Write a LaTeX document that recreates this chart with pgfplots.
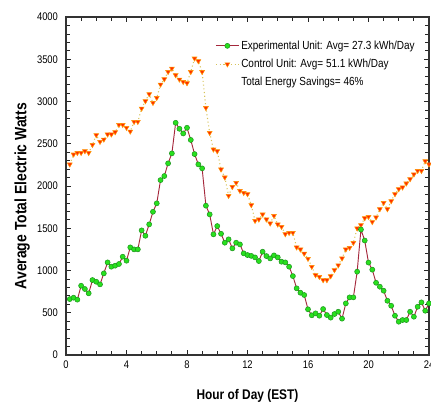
\documentclass[border=0pt]{standalone}
\usepackage{fontspec}
\setmainfont{Liberation Sans}[FakeStretch=0.85]
\usepackage{pgfplots}
\usepackage{pgfplotstable}
\pgfplotsset{compat=1.18}
\definecolor{expline}{RGB}{165,40,60}
\definecolor{expfill}{RGB}{40,225,30}
\definecolor{expdraw}{RGB}{30,150,30}
\definecolor{ctlfill}{RGB}{255,45,0}
\definecolor{ctldraw}{RGB}{255,150,0}
\definecolor{ctlline}{RGB}{215,195,90}

\pgfplotstableread{
h w
0.25 662
0.5 678
0.75 655
1.0 820
1.25 781
1.5 730
1.75 887
2.0 867
2.25 836
2.5 966
2.75 1096
3.0 1045
3.25 1057
3.5 1077
3.75 1163
4.0 1116
4.25 1274
4.5 1250
4.75 1250
5.0 1475
5.25 1411
5.5 1546
5.75 1695
6.0 1795
6.25 2070
6.5 2118
6.75 2268
7.0 2386
7.25 2748
7.5 2677
7.75 2622
8.0 2689
8.25 2545
8.5 2378
8.75 2256
9.0 2209
9.25 1767
9.5 1664
9.75 1428
10.0 1526
10.25 1435
10.5 1329
10.75 1369
11.0 1262
11.25 1329
11.5 1309
11.75 1203
12.0 1183
12.25 1173
12.5 1155
12.75 1112
13.0 1222
13.25 1171
13.5 1143
13.75 1179
14.0 1155
14.25 1104
14.5 1096
14.75 1045
15.0 934
15.25 789
15.5 737
15.75 710
16.0 541
16.25 470
16.5 493
16.75 465
17.0 544
17.25 473
17.5 442
17.75 485
18.0 512
18.25 430
18.5 611
18.75 682
19.0 682
19.25 986
19.5 1485
19.75 1355
20.0 1094
20.25 1010
20.5 855
20.75 808
21.0 761
21.25 642
21.5 583
21.75 465
22.0 394
22.25 414
22.5 414
22.75 512
23.0 453
23.25 571
23.5 623
23.75 524
24.0 611
}\exptable

\pgfplotstableread{
h w
0.25 2256
0.5 2374
0.75 2393
1.0 2393
1.25 2413
1.5 2393
1.75 2488
2.0 2603
2.25 2524
2.5 2551
2.75 2611
3.0 2611
3.25 2638
3.5 2725
3.75 2725
4.0 2690
4.25 2646
4.5 2760
4.75 2760
5.0 2918
5.25 3005
5.5 3088
5.75 2985
6.0 3044
6.25 3202
6.5 3265
6.75 3351
7.0 3391
7.25 3312
7.5 3261
7.75 3233
8.0 3218
8.25 3351
8.5 3510
8.75 3478
9.0 3351
9.25 2925
9.5 2630
9.75 2433
10.0 2413
10.25 2197
10.5 2102
10.75 1885
11.0 1991
11.25 2039
11.5 1944
11.75 1920
12.0 1905
12.25 1775
12.5 1589
12.75 1605
13.0 1664
13.25 1605
13.5 1558
13.75 1648
14.0 1546
14.25 1518
14.5 1431
14.75 1447
15.0 1447
15.25 1274
15.5 1250
15.75 1200
16.0 1140
16.25 1045
16.5 946
16.75 926
17.0 887
17.25 887
17.5 934
17.75 1006
18.0 1063
18.25 1144
18.5 1250
18.75 1270
19.0 1329
19.25 1499
19.5 1538
19.75 1620
20.0 1636
20.25 1575
20.5 1629
20.75 1727
21.0 1802
21.25 1727
21.5 1822
21.75 1905
22.0 1964
22.25 1984
22.5 2031
22.75 2082
23.0 2138
23.25 2180
23.5 2180
23.75 2295
24.0 2256
}\ctltable

\begin{document}
\begin{tikzpicture}
\begin{axis}[
  name=ax, at={(0,0)}, anchor=south west,
  scale only axis, width=272.25pt, height=253.5pt,
  xmin=0, xmax=24, ymin=0, ymax=4000,
  xtick={0,4,...,24}, ytick={0,500,...,4000},
  minor x tick num=3, minor y tick num=4,
  tick align=inside,
  major tick length=4pt, minor tick length=3pt,
  tick style={black!85, line width=0.6pt},
  axis line style={black!80, line width=0.8pt},
  /pgf/number format/assume math mode=true,
  scaled ticks=false,
  /pgf/number format/1000 sep={},
  ticklabel style={font=\fontsize{8.3}{10}\selectfont},
  xticklabel style={yshift=-1pt},
  yticklabel style={xshift=-2.5pt},
  title={\textbf{Chapel Hill, NC}},
  title style={font=\fontsize{11}{13}\selectfont, at={(axis description cs:0.5,1)}, anchor=base, yshift=9.75pt},
  xlabel={\textbf{Hour of Day (EST)}},
  xlabel style={font=\fontsize{10.5}{12}\selectfont, at={(axis description cs:0.5,0)}, anchor=base, yshift=-33.5pt},
  ylabel={\textbf{Average Total Electric Watts}},
  ylabel style={font=\fontsize{12.3}{14}\selectfont, at={(axis description cs:-0.121,0.47)}, anchor=center},
  legend cell align=left,
  legend style={at={(axis description cs:0.40,0.947)}, anchor=north west, draw=none, fill=none,
    font=\fontsize{8.8}{10}\selectfont, row sep=1.75pt,
    nodes={inner sep=1.5pt, text height=7pt, text depth=2pt}},
]
\addlegendimage{color=expline, line width=0.7pt, mark=*, mark size=1.9pt, mark options={fill=expfill, draw=expdraw, line width=0.4pt}}
\addlegendentry{Experimental Unit: Avg= 27.3 kWh/Day}
\addlegendimage{color=ctlline, dotted, line width=0.8pt, mark=triangle*, mark size=2.1pt, mark options={rotate=180, solid, fill=ctlfill, draw=ctldraw, line width=0.4pt}}
\addlegendentry{Control Unit: Avg= 51.1 kWh/Day}
\addlegendimage{empty legend}
\addlegendentry{Total Energy Savings= 46\%}

\addplot[forget plot, color=ctlline, dotted, line width=0.8pt, mark=triangle*, mark size=2.1pt, mark options={rotate=180, solid, fill=ctlfill, draw=ctldraw, line width=0.4pt}] table[x=h, y=w] {\ctltable};
\addplot[forget plot, color=expline, line width=0.7pt, mark=*, mark size=1.9pt, mark options={fill=expfill, draw=expdraw, line width=0.4pt}] table[x=h, y=w] {\exptable};
\end{axis}
\pgfresetboundingbox
\path[use as bounding box] ([shift={(-49.5pt,-36.75pt)}]ax.south west) rectangle ([shift={(273.75pt,266.25pt)}]ax.south west);
\end{tikzpicture}
\end{document}
